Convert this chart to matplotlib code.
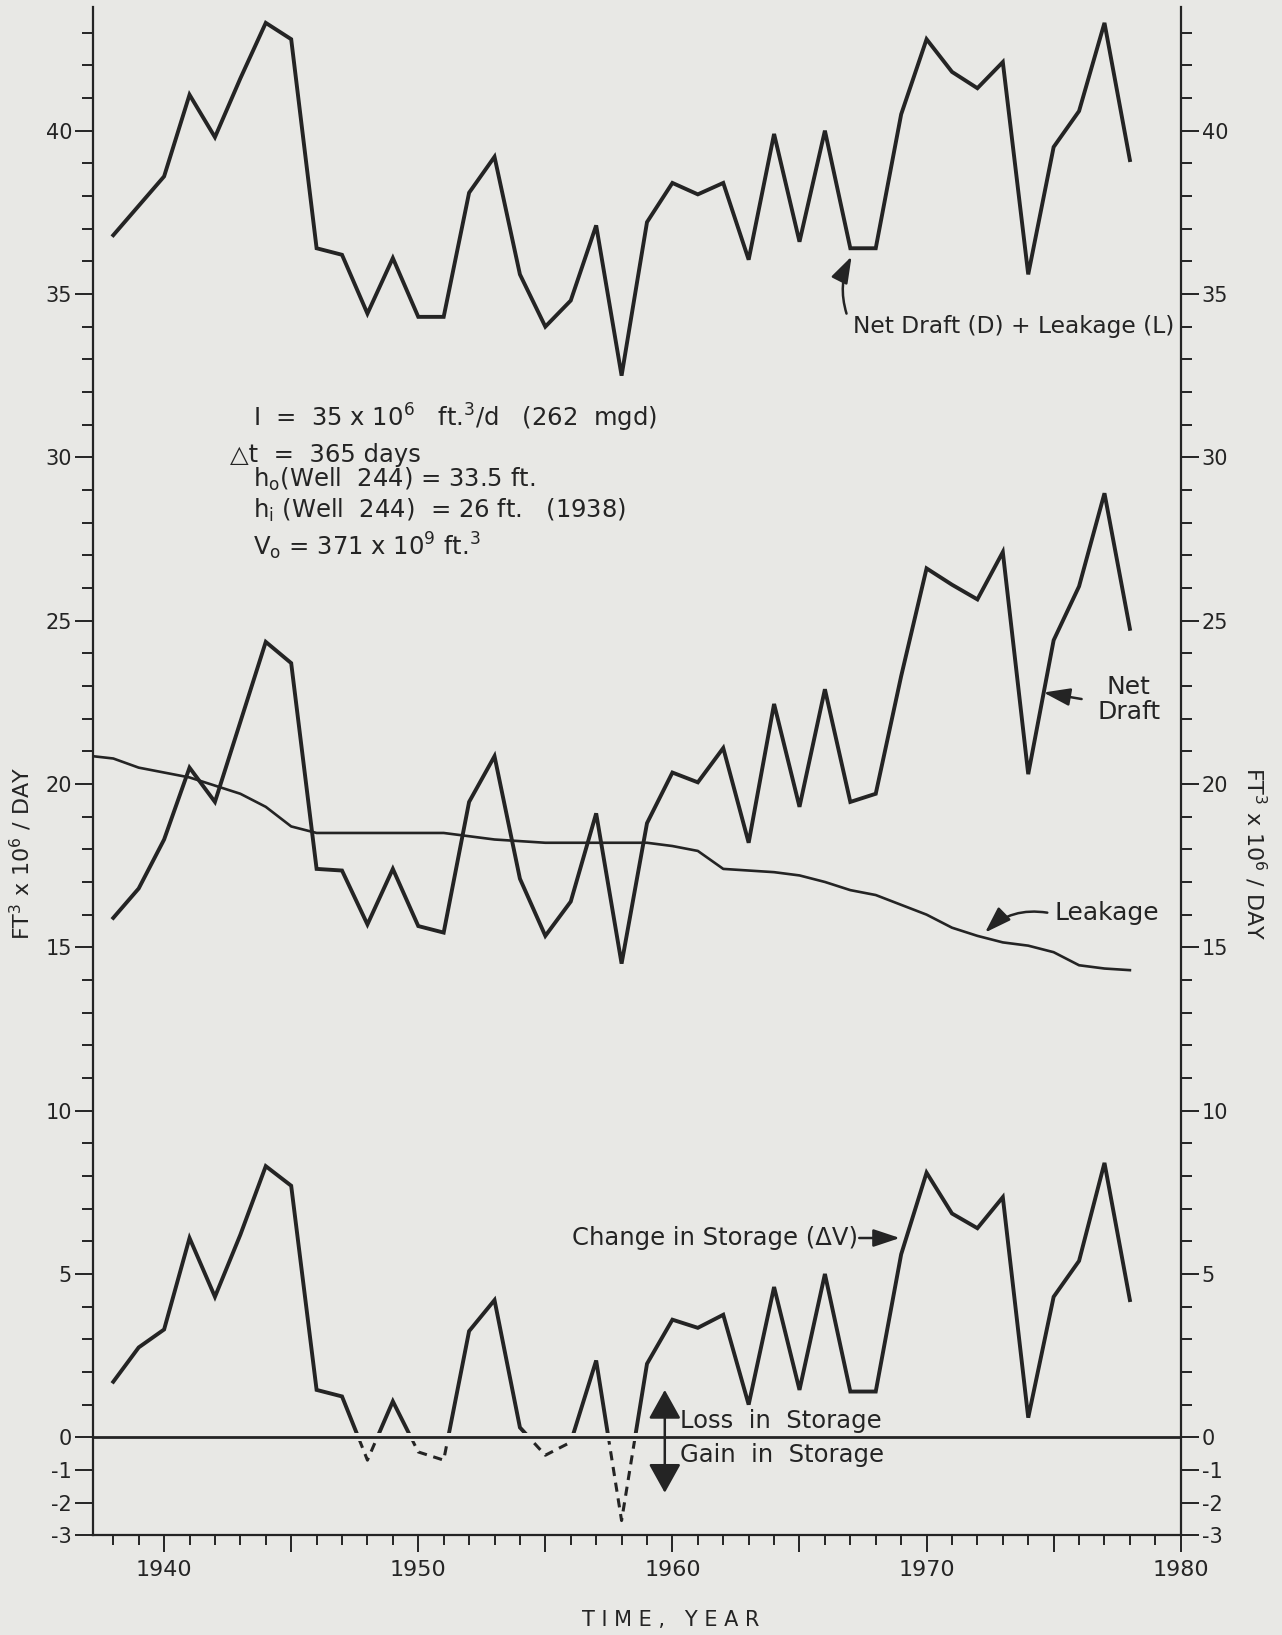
"""
plot.py - net draft, leakage and change in storage vs year (scanned figure remake).
"""
import matplotlib
matplotlib.use("Agg")
import matplotlib.pyplot as plt
from matplotlib.patches import Rectangle

INK = "#242424"
PAPER = "#e8e8e5"

# yearly values
YEARS = list(range(1938, 1979))
DRAFT_PLUS_LEAK = [36.8, 37.7, 38.6, 41.1, 39.8, 41.6, 43.3, 42.8, 36.4, 36.2,
                   34.4, 36.1, 34.3, 34.3, 38.1, 39.2, 35.6, 34.0, 34.8, 37.1,
                   32.5, 37.2, 38.4, 38.05, 38.4, 36.05, 39.9, 36.6, 40.0, 36.4,
                   36.4, 40.5, 42.8, 41.8, 41.3, 42.1, 35.6, 39.5, 40.6, 43.3, 39.1]
NET_DRAFT = [15.9, 16.8, 18.3, 20.5, 19.45, 21.9, 24.35, 23.7, 17.4, 17.35,
             15.7, 17.4, 15.65, 15.45, 19.45, 20.85, 17.1, 15.35, 16.4, 19.1,
             14.5, 18.8, 20.35, 20.05, 21.1, 18.2, 22.45, 19.3, 22.9, 19.45,
             19.7, 23.3, 26.6, 26.1, 25.65, 27.1, 20.3, 24.4, 26.05, 28.9, 24.75]
STORAGE = [1.7, 2.75, 3.3, 6.1, 4.3, 6.2, 8.3, 7.7, 1.45, 1.25,
           -0.7, 1.1, -0.45, -0.7, 3.25, 4.2, 0.3, -0.55, -0.15, 2.35,
           -2.55, 2.25, 3.6, 3.35, 3.75, 1.0, 4.6, 1.45, 5.0, 1.4,
           1.4, 5.6, 8.1, 6.85, 6.4, 7.35, 0.6, 4.3, 5.4, 8.4, 4.2]

# leakage is a smooth curve, starts at the left axis
LEAK_YEARS = [1937.2] + list(range(1938, 1979))
LEAKAGE = [20.85, 20.78, 20.5, 20.35, 20.2, 19.95, 19.7, 19.3, 18.7, 18.5,
           18.5, 18.5, 18.5, 18.5, 18.5, 18.4, 18.3, 18.25, 18.2, 18.2,
           18.2, 18.2, 18.2, 18.1, 17.95, 17.4, 17.35, 17.3, 17.2, 17.0,
           16.75, 16.6, 16.3, 16.0, 15.6, 15.35, 15.15, 15.05, 14.85, 14.45,
           14.35, 14.3]

Y_MAJOR = [-3, -2, -1, 0, 5, 10, 15, 20, 25, 30, 35, 40]
X_MAJOR = [1940, 1945, 1950, 1955, 1960, 1965, 1970, 1975, 1980]
X_LABELS = ["1940", "", "1950", "", "1960", "", "1970", "", "1980"]

PARAMS = [
    r"I  =  35 x 10$^6$   ft.$^3$/d   (262  mgd)",
    "△t  =  365 days",
    r"h$_\mathrm{o}$(Well  244) = 33.5 ft.",
    r"h$_\mathrm{i}$ (Well  244)  = 26 ft.   (1938)",
    r"V$_\mathrm{o}$ = 371 x 10$^9$ ft.$^3$",
]

plt.rcParams.update({
    "font.family": "DejaVu Sans", "mathtext.fontset": "dejavusans",
    "axes.unicode_minus": False, "text.color": INK,
    "axes.edgecolor": INK, "xtick.color": INK, "ytick.color": INK,
})

fig = plt.figure(figsize=(12.82, 16.35), dpi=100, facecolor=PAPER)
ax = fig.add_axes([0.0725, 0.061, 0.8485, 0.935], facecolor=PAPER)

ax.plot(YEARS, DRAFT_PLUS_LEAK, color=INK, lw=2.8, solid_joinstyle="miter")
ax.plot(YEARS, NET_DRAFT, color=INK, lw=2.8, solid_joinstyle="miter")
ax.plot(LEAK_YEARS, LEAKAGE, color=INK, lw=1.9)

# storage: solid above zero, dashed below
pos, = ax.plot(YEARS, STORAGE, color=INK, lw=2.8, solid_joinstyle="miter")
pos.set_clip_path(Rectangle((1930, 0.12), 60, 100, transform=ax.transData))
neg, = ax.plot(YEARS, STORAGE, color=INK, lw=2.2, ls=(0, (3, 2.2)))
neg.set_clip_path(Rectangle((1930, -10), 60, 9.88, transform=ax.transData))
ax.axhline(0, color=INK, lw=2.0)

ax.set_xlim(1937.2, 1980)
ax.set_ylim(-3, 43.8)
ax.spines["top"].set_visible(False)
for s in ("left", "right", "bottom"):
    ax.spines[s].set_linewidth(1.6)

ax.set_xticks(X_MAJOR)
ax.set_xticklabels(X_LABELS)
ax.set_xticks(range(1938, 1980), minor=True)
ax.set_yticks(Y_MAJOR)
ax.set_yticklabels([str(v) for v in Y_MAJOR])
ax.set_yticks(range(-3, 44), minor=True)
ax.tick_params(axis="x", which="major", direction="out", length=12, width=1.4,
               labelsize=16, pad=6)
ax.tick_params(axis="x", which="minor", direction="out", length=7, width=1.4)
ax.tick_params(axis="y", which="both", left=True, right=True,
               labelleft=True, labelright=True)
ax.tick_params(axis="y", which="major", direction="out", length=13, width=1.4,
               labelsize=15, pad=2)
ax.tick_params(axis="y", which="minor", direction="out", length=8, width=1.4)

# parameter block
ax.text(1943.5, 30.95, PARAMS[0], fontsize=17.5, va="baseline")
ax.text(1942.6, 29.87, PARAMS[1], fontsize=17.5, va="baseline")
ax.text(1943.5, 29.1, PARAMS[2], fontsize=17.5, va="baseline")
ax.text(1943.5, 28.15, PARAMS[3], fontsize=17.5, va="baseline")
ax.text(1943.5, 27.0, PARAMS[4], fontsize=17.5, va="baseline")

arrow = dict(arrowstyle="-|>,head_length=0.9,head_width=0.3", color=INK,
             lw=1.8, mutation_scale=18, shrinkA=0, shrinkB=0)

ax.annotate("", xy=(1967.05, 36.15), xytext=(1966.85, 34.4),
            arrowprops=dict(arrow, connectionstyle="arc3,rad=-0.2"))
ax.text(1967.1, 34.0, "Net Draft (D) + Leakage (L)", fontsize=16.8,
        ha="left", va="center")

ax.annotate("", xy=(1974.6, 22.8), xytext=(1976.1, 22.6),
            arrowprops=arrow)
ax.text(1977.95, 22.6, "Net\nDraft", fontsize=18, ha="center", va="center",
        linespacing=1.05)

ax.annotate("", xy=(1972.3, 15.45), xytext=(1974.75, 16.06),
            arrowprops=dict(arrow, connectionstyle="arc3,rad=0.25"))
ax.text(1975.05, 16.06, "Leakage", fontsize=18, ha="left", va="center")

ax.annotate("", xy=(1968.95, 6.1), xytext=(1967.35, 6.1), arrowprops=arrow)
ax.text(1967.3, 6.1, "Change in Storage (ΔV)", fontsize=17.5,
        ha="right", va="center")

ax.annotate("", xy=(1959.7, 1.45), xytext=(1959.7, -1.7),
            arrowprops=dict(arrowstyle="<|-|>,head_length=0.9,head_width=0.5",
                            color=INK, lw=1.8, mutation_scale=20,
                            shrinkA=0, shrinkB=0))
ax.text(1960.3, 0.5, "Loss  in  Storage", fontsize=17.5, ha="left", va="center")
ax.text(1960.3, -0.55, "Gain  in  Storage", fontsize=17.5, ha="left", va="center")

ylab = r"FT$^3$ x 10$^6$ / DAY"
fig.text(0.016, 0.478, ylab, rotation=90, fontsize=16, ha="center", va="center")
fig.text(0.979, 0.478, ylab, rotation=-90, fontsize=16, ha="center", va="center")
fig.text(0.523, 0.009, "T I M E ,   Y E A R", fontsize=15, ha="center",
         va="center")

fig.savefig("out.png", dpi=100, facecolor=PAPER)
